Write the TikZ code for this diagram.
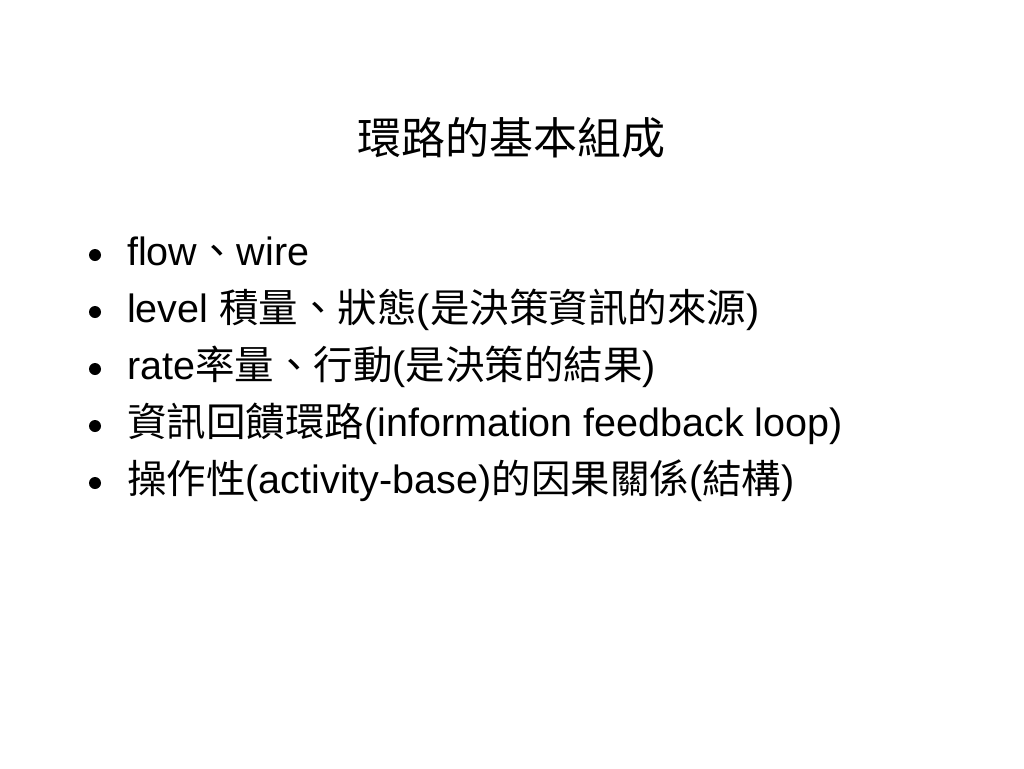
\documentclass[tikz,border=0pt]{standalone}
\usepackage{fontspec}
\setmainfont{Liberation Sans}
\newfontfamily\cjk{Noto Sans CJK TC}
\newcommand\zhtxt[1]{{\cjk #1}}
\begin{document}
\begin{tikzpicture}[x=1pt,y=-1pt,
  txt/.style={anchor=base west, inner sep=0pt, font=\fontsize{39.5}{48}\selectfont},
  bul/.style={circle, fill=black, inner sep=0pt, minimum size=12pt}]
\path[use as bounding box, fill=white] (0,0) rectangle (1024,768);
\node[anchor=base, inner sep=0pt, font=\cjk\fontsize{44}{52}\selectfont] (title) at (511,154) {環路的基本組成};
\foreach \i/\y in {1/265,2/322,3/379,4/436,5/493}{
  \node[bul] (b\i) at (95,\y-10) {};
}
\node[txt] (l1) at (127,265) {flow\zhtxt{、}wire};
\node[txt] (l2) at (127,322) {level \zhtxt{積量、狀態}(\zhtxt{是決策資訊的來源})};
\node[txt] (l3) at (127,379) {rate\zhtxt{率量、行動}(\zhtxt{是決策的結果})};
\node[txt] (l4) at (127,436) {\zhtxt{資訊回饋環路}(information feedback loop)};
\node[txt] (l5) at (127,493) {\zhtxt{操作性}(activity-base)\zhtxt{的因果關係}(\zhtxt{結構})};
\end{tikzpicture}
\end{document}
